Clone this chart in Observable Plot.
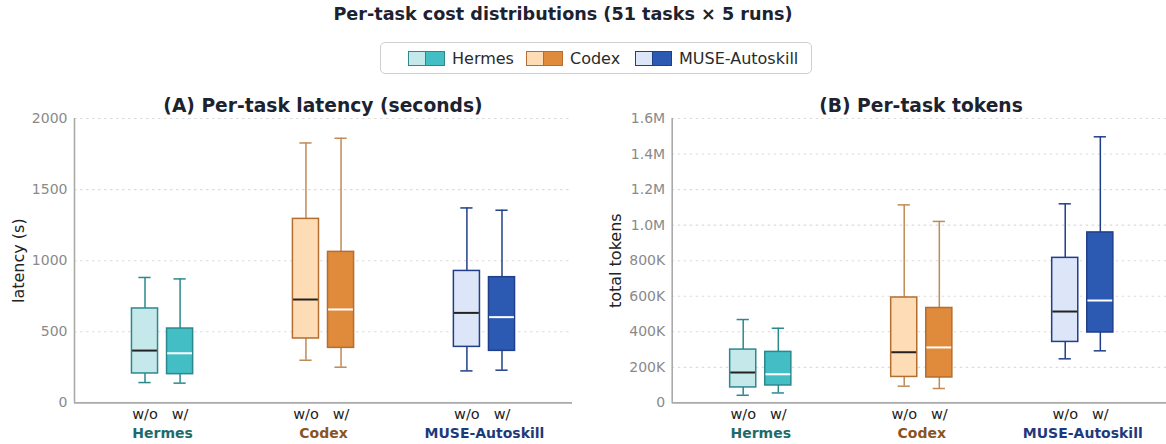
<!DOCTYPE html>
<html>
<head>
<meta charset="utf-8">
<script src="https://cdn.jsdelivr.net/npm/d3@7"></script>
<script src="https://cdn.jsdelivr.net/npm/@observablehq/plot@0.6"></script>
<style>
  html, body { margin: 0; padding: 0; background: #fff; overflow: hidden; }
  body { width: 1166px; height: 444px; position: relative; font-family: "DejaVu Sans", sans-serif; }
  .abs { position: absolute; }
  #title { left: 0; width: 1126px; top: 4px; text-align: center; font-weight: bold; font-size: 17.6px; color: #1c2230; }
  #legend { left: 380px; top: 42px; width: 432px; height: 32px; border: 1px solid #cfcfcf; border-radius: 5px; box-sizing: border-box; }
  .item { position: absolute; top: 0; height: 30px; display: flex; align-items: center; font-size: 16px; color: #2a2a2a; }
  .sw { width: 18px; height: 15px; box-sizing: border-box; border: 1px solid; }
  .ptitle { top: 95px; text-align: center; font-weight: bold; font-size: 18.7px; color: #1c2230; white-space: nowrap; }
</style>
</head>
<body>
<div id="title" class="abs">Per-task cost distributions (51 tasks × 5 runs)</div>
<div id="legend" class="abs"></div>
<div id="ta" class="abs ptitle" style="left:74px;width:498px;">(A) Per-task latency (seconds)</div>
<div id="tb" class="abs ptitle" style="left:672px;width:498px;">(B) Per-task tokens</div>
<div id="left" class="abs" style="left:0;top:90px;"></div>
<div id="right" class="abs" style="left:600px;top:90px;"></div>
<script>
// ---- data ----
const groups = ["Hermes", "Codex", "MUSE-Autoskill"];
const conditions = ["w/o", "w/"];
// order: Hermes w/o, Hermes w/, Codex w/o, Codex w/, MUSE w/o, MUSE w/
const latencyMin    = [143, 139, 300, 251, 225, 230];
const latencyQ1     = [207, 202, 453, 387, 394, 366];
const latencyMedian = [368, 349, 727, 657, 633, 603];
const latencyQ3     = [664, 523, 1294, 1062, 928, 884];
const latencyMax    = [882, 872, 1828, 1861, 1371, 1355];

const tokensMin    = [43000, 56000, 94000, 81000, 248000, 293000];
const tokensQ1     = [87000, 98000, 146000, 143000, 343000, 396000];
const tokensMedian = [171000, 161000, 285000, 312000, 514000, 576000];
const tokensQ3     = [300000, 287000, 593000, 534000, 816000, 959000];
const tokensMax    = [469000, 420000, 1114000, 1021000, 1120000, 1497000];

const latencyTicks = [0, 500, 1000, 1500, 2000];
const latencyTickLabels = ["0", "500", "1000", "1500", "2000"];
const tokenTicks = [0, 200000, 400000, 600000, 800000, 1000000, 1200000, 1400000, 1600000];
const tokenTickLabels = ["0", "200K", "400K", "600K", "800K", "1.0M", "1.2M", "1.4M", "1.6M"];

// ---- styles ----
const lightFill = {"Hermes": "#c5e9ea", "Codex": "#fedcb6", "MUSE-Autoskill": "#dce6f8"};
const darkFill  = {"Hermes": "#44bec5", "Codex": "#e08b3c", "MUSE-Autoskill": "#2c5ab3"};
const edge      = {"Hermes": "#2b898e", "Codex": "#b36e30", "MUSE-Autoskill": "#203f8a"};
const whisk     = {"Hermes": "#2b898e", "Codex": "#c08a55", "MUSE-Autoskill": "#203f8a"};
const labelCol  = {"Hermes": "#1f6b6b", "Codex": "#8a5422", "MUSE-Autoskill": "#1f3a7c"};

const OFF = 0.109, HALF = 0.081, CAP = 0.038;

function rowsFor(mn, q1, md, q3, mx) {
  return mn.map((_, i) => {
    const g = groups[Math.floor(i / 2)], c = conditions[i % 2];
    const x = Math.floor(i / 2) + (c === "w/o" ? -OFF : OFF);
    return {group: g, cond: c, x, min: mn[i], q1: q1[i], median: md[i], q3: q3[i], max: mx[i],
      fill: c === "w/o" ? lightFill[g] : darkFill[g], stroke: edge[g], wstroke: whisk[g],
      mcol: c === "w/o" ? "#222222" : "#ffffff"};
  });
}

function panel({rows, ticks, tickLabels, ymax, label, width, marginLeft, marginRight, xdomain}) {
  const fmt = new Map(ticks.map((t, i) => [t, tickLabels[i]]));
  return Plot.plot({
    width, height: 354,
    marginTop: 28, marginBottom: 41.6, marginLeft, marginRight,
    style: {fontFamily: "DejaVu Sans, sans-serif", background: "transparent", overflow: "visible"},
    x: {type: "linear", domain: xdomain, axis: null},
    y: {domain: [0, ymax], axis: null},
    color: {type: "identity"},
    marks: [
      Plot.ruleY(ticks.slice(1), {stroke: "#dcdcdc", strokeWidth: 1.1, strokeDasharray: "2.5,3.5"}),
      Plot.ruleX(rows, {x: "x", y1: "min", y2: "q1", stroke: "wstroke", strokeWidth: 1.5}),
      Plot.ruleX(rows, {x: "x", y1: "q3", y2: "max", stroke: "wstroke", strokeWidth: 1.5}),
      Plot.ruleY(rows, {y: "min", x1: d => d.x - CAP, x2: d => d.x + CAP, stroke: "wstroke", strokeWidth: 1.5}),
      Plot.ruleY(rows, {y: "max", x1: d => d.x - CAP, x2: d => d.x + CAP, stroke: "wstroke", strokeWidth: 1.5}),
      Plot.rect(rows, {x1: d => d.x - HALF, x2: d => d.x + HALF, y1: "q1", y2: "q3", fill: "fill", stroke: "stroke", strokeWidth: 1.5}),
      Plot.ruleY(rows, {y: "median", x1: d => d.x - HALF + 0.004, x2: d => d.x + HALF - 0.004, stroke: "mcol", strokeWidth: 2}),
      Plot.ruleY([0], {stroke: "#aaaaaa", strokeWidth: 1.6}),
      Plot.ruleX([xdomain[0]], {stroke: "#aaaaaa", strokeWidth: 1.6}),
      Plot.axisY(ticks, {tickSize: 0, tickPadding: 7, tickFormat: t => fmt.get(t), fill: "#8a8a8a", fontSize: 14}),
      Plot.text(rows, {x: "x", frameAnchor: "bottom", dy: 11, text: "cond", fill: "#222", fontSize: 14.5, lineAnchor: "middle"}),
      Plot.text(groups, {x: (d, i) => i, frameAnchor: "bottom", dy: 30.5, text: d => d, fill: d => labelCol[d], fontSize: 14, fontWeight: "bold", lineAnchor: "middle"}),
      Plot.text([label], {frameAnchor: "left", textAnchor: "middle", dx: -56, rotate: -90, text: d => d, fill: "#222", fontSize: 16, lineAnchor: "middle"})
    ]
  });
}

document.getElementById("left").appendChild(panel({
  rows: rowsFor(latencyMin, latencyQ1, latencyMedian, latencyQ3, latencyMax),
  ticks: latencyTicks, tickLabels: latencyTickLabels, ymax: 2000, label: "latency (s)",
  width: 590, marginLeft: 74, marginRight: 18, xdomain: [-0.547, 2.547]
}));
document.getElementById("right").appendChild(panel({
  rows: rowsFor(tokensMin, tokensQ1, tokensMedian, tokensQ3, tokensMax),
  ticks: tokenTicks, tickLabels: tokenTickLabels, ymax: 1600000, label: "total tokens",
  width: 566, marginLeft: 71.7, marginRight: 0, xdomain: [-0.55, 2.52]
}));

// legend
const legend = document.getElementById("legend");
const itemLefts = [27, 145, 254];
groups.forEach((g, i) => {
  const it = document.createElement("div");
  it.className = "item";
  it.style.left = itemLefts[i] + "px";
  const a = document.createElement("span"); a.className = "sw";
  a.style.background = lightFill[g]; a.style.borderColor = edge[g];
  const b = document.createElement("span"); b.className = "sw";
  b.style.background = darkFill[g]; b.style.borderColor = edge[g]; b.style.borderLeft = "none"; b.style.width = "19px";
  const t = document.createElement("span"); t.textContent = g; t.style.marginLeft = "7px";
  it.append(a, b, t);
  legend.appendChild(it);
});
</script>
</body>
</html>
